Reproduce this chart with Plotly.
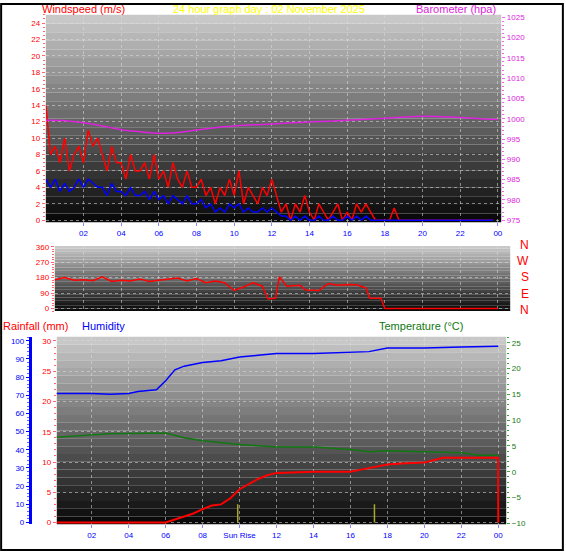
import plotly.graph_objects as go

W, H = 566, 555

# ---- data ----
hours_q = [i / 4 for i in range(96)]
gust = [14, 8, 9, 7, 10, 6, 8, 9, 7, 11, 9, 10, 8, 6, 9, 7,
        7, 5, 8, 6, 6, 7, 5, 8, 5, 6, 4, 7, 5, 4, 6, 4,
        4, 5, 3, 4, 2, 4, 3, 5, 3, 6, 2, 4, 3, 2, 4, 3,
        5, 3, 1, 2, 0, 2, 1, 3, 1, 0, 2, 1, 0, 1, 2, 0,
        1, 0, 2, 1, 2, 1, 0, 0, 0, 0, 1.5, 0, 0, 0, 0, 0,
        0, 0, 0, 0, 0, 0, 0, 0, 0, 0, 0, 0, 0, 0, 0, 0]
avg = [5, 4, 5, 3.5, 4.5, 3.5, 4, 5, 4, 5, 4.5, 4, 4, 3, 4.5, 3.5,
       3.5, 3, 4, 3, 3, 3.5, 2.5, 3.5, 2.5, 3, 2, 3, 2.5, 2, 3, 2,
       2, 2.5, 1.5, 2, 1, 1.5, 1, 2, 1.5, 2, 1, 1.5, 1, 1, 1.5, 1,
       1.5, 1, 0.5, 0.5, 0, 0.5, 0, 0.5, 0, 0, 0.5, 0, 0, 0.5, 0, 0,
       0.5, 0, 0.5, 0, 0.5, 0, 0, 0, 0, 0, 0, 0, 0, 0, 0, 0,
       0, 0, 0, 0, 0, 0, 0, 0, 0, 0, 0, 0, 0, 0, 0, 0]

hours_h = list(range(25))
baro = [999.6, 999.5, 999.0, 998.2, 997.3, 996.8, 996.4, 996.6, 997.2, 997.8,
        998.2, 998.5, 998.7, 999.0, 999.2, 999.4, 999.6, 999.9, 1000.1, 1000.4,
        1000.6, 1000.5, 1000.3, 1000.0, 999.8]

dir_hours = [0, 0.5, 1, 1.5, 2, 2.5, 3, 3.5, 4, 4.5, 5, 5.5, 6, 6.5, 7, 7.5, 8, 8.5,
             9, 9.5, 10, 10.5, 11, 11.5, 11.8, 12.2, 12.4, 12.8, 13.5, 13.8, 14.5,
             15, 15.5, 16, 16.5, 17, 17.2, 17.8, 18, 24]
wind_dir = [170, 168, 180, 165, 168, 162, 185, 158, 165, 160, 172, 158, 165, 172,
            178, 160, 175, 150, 160, 150, 105, 125, 150, 130, 55, 60, 185, 130, 135,
            108, 105, 145, 135, 140, 138, 120, 60, 60, 0, 0]

hum_hours = [0, 2, 3, 4, 4.5, 5.5, 6, 6.5, 7, 8, 9, 10, 11, 12, 14, 16, 17, 18, 20, 22, 24]
humidity = [71, 71, 70.5, 71, 72, 73, 78, 84, 86, 88, 89, 91, 92, 93, 93, 93.5, 94,
            96, 96, 96.5, 97]

temp_hours = [0, 3, 6, 7, 8, 10, 12, 14, 16, 17, 18, 20, 22, 23, 24]
temperature = [6.7, 7.4, 7.5, 6.6, 6.0, 5.3, 4.8, 4.8, 4.3, 3.9, 4.1, 3.9, 3.7, 3.2, 3.2]

rain_hours = [0, 6, 6.5, 7, 7.5, 8, 8.5, 9, 9.5, 10, 10.5, 11, 11.5, 12, 14, 16, 16.5,
              17.5, 18, 19, 20, 20.5, 21, 23.99, 24]
rainfall = [0, 0, 0.5, 1, 1.5, 2.2, 2.8, 3, 4, 5.5, 6.3, 7.2, 7.8, 8.2, 8.4, 8.4, 8.7,
            9.3, 9.6, 9.8, 9.9, 10.3, 10.7, 10.7, 0]

hour_ticks = list(range(2, 25, 2))
hour_labels = ["02", "04", "06", "08", "10", "12", "14", "16", "18", "20", "22", "00"]
hour_labels3 = ["02", "04", "06", "08", "Sun Rise", "12", "14", "16", "18", "20", "22", "00"]
sun_marks = [9.9, 17.3]
compass = ["N", "W", "S", "E", "N"]


def px(v):
    return v / W


def py(v):
    return 1 - v / H


FONT = "Liberation Sans"
fig = go.Figure()

fig.add_trace(go.Scatter(x=hours_q, y=gust, mode="lines", line=dict(color="#ff0000", width=1.5),
                         xaxis="x", yaxis="y"))
fig.add_trace(go.Scatter(x=hours_q, y=avg, mode="lines", line=dict(color="#0000ff", width=1.5),
                         xaxis="x", yaxis="y"))
fig.add_trace(go.Scatter(x=hours_h, y=baro, mode="lines", line=dict(color="#dd22dd", width=1.5),
                         line_shape="spline", xaxis="x", yaxis="y2"))
fig.add_trace(go.Scatter(x=dir_hours, y=wind_dir, mode="lines", line=dict(color="#ff0000", width=1.5),
                         xaxis="x2", yaxis="y3"))
fig.add_trace(go.Scatter(x=hum_hours, y=humidity, mode="lines", line=dict(color="#0000ff", width=1.5),
                         xaxis="x3", yaxis="y5"))
fig.add_trace(go.Scatter(x=temp_hours, y=temperature, mode="lines",
                         line=dict(color="#117711", width=1.5), xaxis="x3", yaxis="y6"))
fig.add_trace(go.Scatter(x=rain_hours, y=rainfall, mode="lines", line=dict(color="#ff0000", width=2),
                         xaxis="x3", yaxis="y4"))
for s in sun_marks:
    fig.add_trace(go.Scatter(x=[s, s], y=[0, 3], mode="lines", line=dict(color="#aaaa22", width=1.5),
                             xaxis="x3", yaxis="y4"))

# gradient backgrounds
shapes = []
for (x0, x1, y0, y1) in [(46, 503, 12, 222), (55, 512, 246, 312), (57, 508, 338, 528)]:
    n = 24
    for i in range(n):
        g = int(200 - 190 * i / (n - 1))
        shapes.append(dict(type="rect", xref="paper", yref="paper", layer="below",
                           x0=px(x0), x1=px(x1), y0=py(y0 + (y1 - y0) * i / n),
                           y1=py(y0 + (y1 - y0) * (i + 1) / n), line_width=0,
                           fillcolor=f"rgb({g},{g},{g})"))
shapes.append(dict(type="rect", xref="paper", yref="paper", x0=0.002, x1=0.998, y0=0.002, y1=0.998,
                   line=dict(color="black", width=2)))

grid = dict(showgrid=True, gridcolor="rgba(220,220,220,0.55)", griddash="dot", gridwidth=1)
tickf = dict(size=8, family=FONT)


def xax(dom, rng, dy, labels, show):
    return dict(domain=[px(dom[0]), px(dom[1])], range=rng, anchor=dy, tickvals=hour_ticks,
                ticktext=labels, showticklabels=show, tickfont=dict(tickf, color="#0000ff"),
                ticks="outside" if show else "", ticklen=3, tickcolor="#8888ff",
                zeroline=False, showline=False, **grid)


layout = dict(
    width=W, height=H, margin=dict(l=0, r=0, t=0, b=0), paper_bgcolor="white",
    plot_bgcolor="rgba(0,0,0,0)", showlegend=False, shapes=shapes,
    xaxis=xax((46, 503), [0, 24.18], "y", hour_labels, True),
    xaxis2=xax((55, 512), [0.48, 24.66], "y3", hour_labels, False),
    xaxis3=xax((57, 508), [0.11, 24.43], "y4", hour_labels3, True),
    yaxis=dict(domain=[py(222), py(12)], range=[-0.24, 25], anchor="x", tickvals=list(range(0, 25, 2)),
               tickfont=dict(tickf, color="#ff0000"), ticks="outside", ticklen=3, tickcolor="#ff6666",
               minor=dict(ticks="outside", ticklen=2, tickcolor="#ff6666", dtick=0.5),
               zeroline=False, **grid),
    yaxis2=dict(overlaying="y", side="right", anchor="x", range=[974.5, 1025.6],
                tickvals=list(range(975, 1026, 5)), tickfont=dict(tickf, color="#dd22dd"),
                ticks="outside", ticklen=3, tickcolor="#ee66ee",
                minor=dict(ticks="outside", ticklen=2, tickcolor="#ee66ee", dtick=1),
                showgrid=False, zeroline=False),
    yaxis3=dict(domain=[py(312), py(246)], range=[-15, 365], anchor="x2",
                tickvals=[0, 90, 180, 270, 360], tickfont=dict(tickf, color="#ff0000"),
                ticks="outside", ticklen=3, tickcolor="#ff6666",
                minor=dict(ticks="outside", ticklen=2, tickcolor="#ff6666", dtick=15),
                zeroline=False, **grid),
    yaxis4=dict(domain=[py(528), py(338)], range=[-0.3, 30.7], anchor="x3",
                tickvals=[0, 5, 10, 15, 20, 25, 30], tickfont=dict(tickf, color="#ff0000"),
                ticks="outside", ticklen=3, tickcolor="#ff6666",
                minor=dict(ticks="outside", ticklen=2, tickcolor="#ff6666", dtick=1),
                zeroline=False, **grid),
    yaxis5=dict(overlaying="y4", anchor="free", position=px(30), side="left", range=[-1.1, 102.2],
                tickvals=list(range(0, 101, 10)), tickfont=dict(tickf, color="#0000ff"),
                ticks="outside", ticklen=3, tickcolor="#0000ff", showline=True, linecolor="#0000ff",
                linewidth=3, minor=dict(ticks="outside", ticklen=2, tickcolor="#6666ff", dtick=2),
                showgrid=False, zeroline=False),
    yaxis6=dict(overlaying="y4", side="right", anchor="x3", range=[-10.2, 26.2],
                tickvals=list(range(-10, 26, 5)), tickfont=dict(tickf, color="#117711"),
                ticks="outside", ticklen=3, tickcolor="#33aa33",
                minor=dict(ticks="outside", ticklen=2, tickcolor="#33aa33", dtick=1),
                showgrid=False, zeroline=False),
)

ann = [
    (40, 6, "Windspeed (m/s)", "#ff0000", "left"),
    (270, 6, "24 hour graph day : 02 November 2025", "#ffff00", "center"),
    (500, 6, "Barometer (hpa)", "#dd22dd", "right"),
    (1, 327, "Rainfall (mm)", "#ff0000", "left"),
    (80, 327, "Humidity", "#0000ff", "left"),
    (378, 327, "Temperature (°C)", "#117711", "left"),
]
annotations = [dict(x=px(x), y=py(y), xref="paper", yref="paper", text=t, showarrow=False,
                    xanchor=a, yanchor="middle", font=dict(size=11, family=FONT, color=c))
               for x, y, t, c, a in ann]
for i, c in enumerate(compass):
    annotations.append(dict(x=px(533), y=py(245 + i * 16.5), xref="paper", yref="paper", text=c,
                            showarrow=False, font=dict(size=12, family=FONT, color="#ff0000")))
layout["annotations"] = annotations

fig.update_layout(**layout)
fig.write_html("out.html", config={"displayModeBar": False},
               post_script="document.body.style.margin='0';")
